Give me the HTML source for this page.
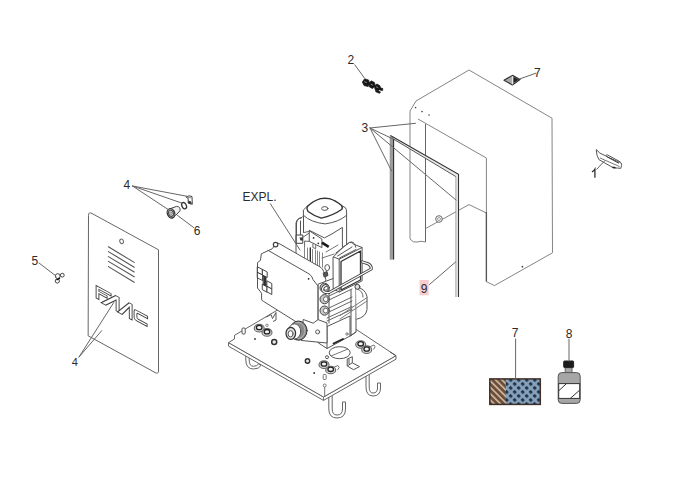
<!DOCTYPE html>
<html><head><meta charset="utf-8">
<style>
html,body{margin:0;padding:0;background:#fff;}
body{width:694px;height:500px;overflow:hidden;}
svg{display:block;}
.lb{font-family:"Liberation Sans",sans-serif;font-size:12px;fill:#2a2a2a;}
</style></head>
<body>
<svg width="694" height="500" viewBox="0 0 694 500">
<rect width="694" height="500" fill="#fff"/>
<g fill="none" stroke="#666" stroke-width="1" stroke-linejoin="round" stroke-linecap="round">

<!-- ===== Part 4 front panel ===== -->
<path d="M88.5,215 Q88.5,211.5 92,213.5 L158.5,249.8 L158.5,371 Q158.5,374.5 155,372.5 L88.5,336 Z"/>
<ellipse cx="121.6" cy="241.4" rx="1.8" ry="2.3" transform="rotate(-20 121.6 241.4)"/>
<g stroke="#555" stroke-width="1.1">
<path d="M108.4,246.8 L134.2,262.4 M108.4,251.6 L134.2,267.2 M108.4,256.6 L134.2,272 M108.4,261.4 L134.2,276.8 M108.4,266.6 L134.2,282.2"/>
</g>
</g>

<!-- FAAC logo -->
<g transform="matrix(1,0.54,0,1,96.1,299.5)" fill="#fff" stroke="#3a3a3a" stroke-width="0.9" stroke-linejoin="miter" fill-rule="evenodd">
<path d="M0,-1.5 L0,-14 L15,-14 L15,-11.6 L2.8,-11.6 L2.8,-9.6 L11,-9.6 L11,-7.2 L2.8,-7.2 L2.8,-1.5 Z"/>
<path d="M5,0.5 L19.5,-14.5 L23,-14.5 L23,0.5 L20,0.5 L20,-10.2 L9.6,0.5 Z"/>
<path d="M21.5,0.8 L33,-14.6 L36,-14.6 L36,1 L33.2,1 L33.2,-10.2 L26,0.8 Z"/>
<path d="M40,-11 L51.5,-11 L51.5,-8.6 L41.8,-8.6 Q40.8,-8.6 40.8,-7.4 L40.8,-4.2 Q40.8,-3 41.8,-3 L51,-3 L51,-0.6 L40,-0.6 Q38,-0.6 38,-2.8 L38,-8.8 Q38,-11 40,-11 Z"/>
</g>



<!-- ===== cover (hood) ===== -->
<g fill="none" stroke="#858585" stroke-width="1" stroke-linejoin="round">
<path d="M410,239 L410,111 L416,101 L469,70 L552,118.2 L552.5,252.8 L494.4,285.6 L486.4,281.6 L486.4,158"/>
<path d="M418,119 L486.4,158"/>
<path d="M425.5,124 L425.5,242" stroke="#666"/>
<path d="M410,239 Q413,243 417,242 Q421,240.5 425.5,242"/>
<path d="M486.4,213 L469,204.6 L425.5,228.6"/>
<path d="M486.4,212 L486.4,281.6" stroke="#555" stroke-width="1.3"/>
</g>
<g fill="#444">
<circle cx="415.6" cy="107.6" r="0.8"/><circle cx="422" cy="111.6" r="0.8"/><circle cx="429" cy="115" r="0.8"/>
<circle cx="522.4" cy="266.7" r="0.9"/>
</g>
<!-- bolt -->
<circle cx="439" cy="219" r="3.3" fill="#fff" stroke="#666" stroke-width="1"/>
<circle cx="439" cy="219" r="1.5" fill="none" stroke="#888" stroke-width="0.8"/>
<!-- ===== gasket part 3 ===== -->
<g stroke-linejoin="miter" fill="none">
<path d="M390.4,135.4 L458.5,174.3 L458.5,297 L455.9,297 L455.9,176.6 L393.4,139 L393.4,259.6 L390.4,259.6 Z" fill="#ececec" stroke="none"/>
<rect x="390.2" y="137" width="3.2" height="122.6" fill="#9c9c9c"/>
<path d="M390.2,259.6 L390.2,135.4" stroke="#888" stroke-width="0.8"/>
<path d="M390.4,135.4 L458.5,174.3 L458.5,297" stroke="#333" stroke-width="1.1"/>
<path d="M393.6,259.6 L393.6,139" stroke="#2a2a2a" stroke-width="1.1"/>
<path d="M393.4,139 L455.9,176.6" stroke="#444" stroke-width="0.9"/>
<path d="M455.9,176.6 L455.9,297" stroke="#999" stroke-width="0.9"/>
</g>

<!-- ===== base plate ===== -->
<g fill="#fff" stroke="#666" stroke-width="1" stroke-linejoin="round">
<!-- hooks -->
<path d="M245.8,350 L245.8,360 Q246,369 253.5,369 Q259,369 261,365.5 L258.5,364 Q257,366.3 253.5,366.3 Q249.2,366.3 249.2,360 L249.2,350 Z"/>
<path d="M328.8,395 L328.8,409 Q329,418 337,418 Q345.5,418 345.5,409 L345.5,402 L342.5,402 L342.5,409 Q342.5,415 337,415 Q332.2,415 332.2,409 L332.2,395 Z"/>
<path d="M366,370 L366,387 Q366.2,396 373,396 Q380.5,396 380.5,388 L380.5,383 L377.5,383 L377.5,388 Q377.5,393 373,393 Q369.2,393 369.2,387 L369.2,370 Z"/>
<!-- plate thickness -->
<path d="M228.5,342.6 L228.5,346.2 L323.5,400.4 L396,359.2 L396,355.7 L323.5,397 Z"/>
<path d="M323.5,397 L323.5,400.4" stroke="#777"/>
<!-- top face -->
<path d="M228.5,342.6 L234.5,339 L234.5,335.3 L303.6,294.7 L396,355.7 L323.5,397 Z"/>
<path d="M390,352 L396,355.7" stroke="#555"/>
</g>
<!-- plate details -->
<g fill="#fff" stroke="#555" stroke-width="1">
<ellipse cx="339.7" cy="352.7" rx="10.5" ry="6"/>
<path d="M331,356 L348,349" stroke="#777"/>
<rect x="242" y="328" width="3.2" height="6" rx="1"/>
<circle cx="274.2" cy="342" r="2.5" stroke-width="1.5" stroke="#333" fill="#eee"/>
<circle cx="255" cy="339" r="0.9" fill="#333" stroke="none"/>
<ellipse cx="259.2" cy="328.2" rx="5" ry="3.8" stroke-width="1.1" fill="#d6d6d6" stroke="#666"/>
<ellipse cx="259.2" cy="327.5" rx="2.8" ry="2.2" stroke="#222" stroke-width="1.3" fill="#f4f4f4"/>
<ellipse cx="267" cy="332.4" rx="5" ry="3.8" stroke-width="1.1" fill="#d6d6d6" stroke="#666"/>
<ellipse cx="267" cy="331.7" rx="2.8" ry="2.2" stroke="#222" stroke-width="1.3" fill="#f4f4f4"/>
<circle cx="267" cy="325.3" r="1.2" stroke="#888"/>
<path d="M266.5,317 L271,314.5 L272.5,318.5 L276,312.5 L276,320 L273,321.5" stroke="#555" fill="none"/>
<!-- right washers -->
<path d="M368,347.5 L374,345 Q376.5,346.5 373.5,349.5" stroke="#777"/>
<ellipse cx="360.7" cy="344.5" rx="5" ry="3.8" stroke-width="1.1" fill="#d6d6d6" stroke="#666"/>
<ellipse cx="360.7" cy="343.8" rx="2.8" ry="2.2" stroke="#222" stroke-width="1.3" fill="#f4f4f4"/>
<ellipse cx="366.7" cy="349.7" rx="5" ry="3.8" stroke-width="1.1" fill="#d6d6d6" stroke="#666"/>
<ellipse cx="366.7" cy="349" rx="2.8" ry="2.2" stroke="#222" stroke-width="1.3" fill="#f4f4f4"/>
<!-- front washers -->
<path d="M332,368 L338,365.5 Q340.5,367 337.5,370" stroke="#777"/>
<ellipse cx="324" cy="364.7" rx="5" ry="3.8" stroke-width="1.1" fill="#d6d6d6" stroke="#666"/>
<ellipse cx="324" cy="364" rx="2.8" ry="2.2" stroke="#222" stroke-width="1.3" fill="#f4f4f4"/>
<ellipse cx="330.7" cy="370" rx="5" ry="3.8" stroke-width="1.1" fill="#d6d6d6" stroke="#666"/>
<ellipse cx="330.7" cy="369.3" rx="2.8" ry="2.2" stroke="#222" stroke-width="1.3" fill="#f4f4f4"/>
<!-- bracket -->
<path d="M347.2,359.1 L352.3,356.7 L352.3,362.8 L359.5,366.6 L353.5,369.7 L347.2,365.9 Z" stroke="#555"/>
<path d="M347.2,365.9 L352.3,362.8 M349,359 L349,364" stroke="#555" fill="none"/>
<circle cx="307.5" cy="361" r="2.2" stroke-width="1.4" stroke="#333" fill="#eee"/>
<circle cx="327" cy="357.2" r="1.5"/>
<circle cx="314.2" cy="373" r="0.9" fill="#333" stroke="none"/>
<rect x="323.2" y="374.5" width="3" height="5" rx="0.8" stroke="#777"/>
<circle cx="324.7" cy="385.5" r="1.5" stroke="#777"/>
<path d="M324.7,387 L324.7,396" stroke="#777"/>
</g>

<!-- ===== motor assembly ===== -->
<g fill="#fff" stroke="#555" stroke-width="1" stroke-linejoin="round" stroke-linecap="round">
<!-- motor body -->
<path d="M296,262 L296,223 Q297,218 302,217.5 L303.4,216 L303.4,210 L307.3,206.2 Q313,201 320.6,198.6 L329.1,198.6 Q336,200.5 341.6,205.6 L345.5,207.8 Q346.6,209.5 346.6,212 L346.6,262"/>
<path d="M307.3,206.4 Q313,201 320.6,198.6 Q325,197.8 329.1,198.6 Q336,200.5 341.6,205.6 Q343,208 341.6,209.5 Q333,215.5 321.3,218.1 Q314,216 308.1,211.5 Q306.3,209 307.3,206.4 Z" stroke="#333" stroke-width="1.4"/>
<ellipse cx="324.8" cy="208.5" rx="3.2" ry="1.9"/>
<path d="M303.4,215.3 Q311,222.5 325.2,223.9 Q339,222 346.6,215.3" fill="none"/>
<path d="M309.3,230.3 L324.4,237.9 L332,233.9 L342.4,227.4 L342.4,247" fill="none"/>
<path d="M303.5,216 L303.5,232.5 M300.5,221 L300.5,237.5" fill="none"/>
<path d="M296.5,243.3 L296.5,223 Q297,218.5 301.5,217.8" fill="none"/>
<path d="M296.5,235 L302.8,235 L302.8,243.3 L296.5,243.3 Z" fill="#fff" stroke="#444"/>
<path d="M299.5,237.5 L302.8,237.5 L302.8,240.4 L300.5,240.4 Z" fill="#333" stroke="none"/>
<path d="M302,237.9 L309,233.2 M303.9,232.5 L309.3,231.4" fill="none" stroke="#666"/>
<!-- switch plate -->
<path d="M309.6,231 L321.9,239 L321.9,247.6 L309.6,241.5 Z"/>
<circle cx="313.6" cy="237.9" r="0.9" fill="#333" stroke="none"/>
<circle cx="318.3" cy="243.3" r="0.9" fill="#333" stroke="none"/>
<path d="M304.6,247 L304.6,241 L309.6,241.5" fill="none" stroke="#666"/>
<path d="M312.9,244 L312.9,247.6 L315.7,248.6 L315.7,245.4" fill="none" stroke="#666"/>
<path d="M322,242.6 L328.7,246.9" stroke="#1a1a1a" stroke-width="2.6" stroke-linecap="butt"/>
<!-- slats -->
<path d="M304.5,247.6 L304.5,262 M307.5,248 L307.5,262 M312.5,249.5 L312.5,264 M315.5,250 L315.5,265 M317.5,251 L317.5,266 M319.5,252 L319.5,266 M322.5,253 L322.5,267" fill="none" stroke="#777" stroke-width="0.9"/>
<path d="M310.3,248 L310.3,263" stroke="#222" stroke-width="1.3"/>
<path d="M322,258 L334.2,254 M326,252 L338,245" fill="none" stroke="#777"/>

<!-- control box -->
<path d="M272.5,248.4 L275,244.7 Q277.5,242.3 279.2,243.6 L321,267.5 Q324,269.5 325.8,279.6 L324,322 L302,325.5 L263.7,301.5 Q261.6,301 261.6,299 L261.6,293.2 L257.5,288 L257.5,262.6 L260.4,260.4 L261.3,254.2 Z"/>
<path d="M268,250.3 L309,273.9 Q312,275.5 313,279.6 L318,286 L318,319" fill="none"/>

<circle cx="275.6" cy="244.6" r="2.3" fill="#fff" stroke="#444" stroke-width="1.2"/>
<circle cx="308.6" cy="278.8" r="0.9" fill="#222" stroke="none"/>
<!-- grid cells -->
<g stroke="#333" stroke-width="0.9" fill="#fff">
<path d="M257.6,267 L262.6,269.5 L262.6,275 L257.6,272.5 Z"/>
<path d="M262.6,269.5 L267.2,272 L267.2,277.5 L262.6,275 Z"/>
<path d="M257.6,272.5 L262.6,275 L262.6,280.5 L257.6,278 Z"/>
<path d="M267.2,281 L271.8,283.5 L271.8,289 L267.2,286.5 Z"/>
<path d="M262.6,284.3 L267.2,286.8 L267.2,292.3 L262.6,289.8 Z"/>
<path d="M267.2,286.5 L271.8,289 L271.8,294.5 L267.2,292 Z"/>
<path d="M263.5,276 L266,277.2 L266,286 L263.5,284.8 Z" fill="#333"/>
</g>

<!-- pump block -->
<path d="M318.5,284 L356,270 L356,332 L350,336 L327,348.5 L318.5,343 Z"/>
<path d="M329,287 L329,323" fill="none"/>
<path d="M327,326.5 L350,316 L350,336 M327,326.5 L327,348.5 M319,322 L327,326.5" fill="none"/>
<path d="M329,296 L352,285 M329,300 L352,289 M329,308 L352,297 M329,312 L352,301 M327,318 L352,306.5 M327,321 L352,309.5" fill="none" stroke="#666"/>
<path d="M351,290 L351,335.5 M356,332 L351,335.5" fill="none"/>
<path d="M333.5,343.5 L343,339" stroke="#222" stroke-width="1.8"/>
<circle cx="347" cy="334" r="1.2" fill="#fff" stroke="#777"/>
<!-- right tank -->
<path d="M356,287 Q365,288 367,296.4 L367,309.6 Q366,317 356.8,319.2" fill="#fff"/>
<path d="M340,315.6 L367,297.6 M340,319 L367,301" fill="none" stroke="#777"/>
<path d="M357.4,289 Q363,291 363,297" fill="none" stroke="#666"/>
<circle cx="357.4" cy="286.8" r="2.5" fill="#ddd" stroke="#444"/>
<!-- fittings -->
<g stroke="#444" stroke-width="1">
<circle cx="324.6" cy="287.8" r="4.6" fill="#c8c8c8"/>
<circle cx="324.6" cy="299.2" r="4.6" fill="#c8c8c8"/>
<circle cx="324.6" cy="310.6" r="4.6" fill="#c8c8c8"/>
<circle cx="325.8" cy="287.8" r="2.4" fill="#fff" stroke="#666"/>
<circle cx="325.8" cy="299.2" r="2.4" fill="#fff" stroke="#666"/>
<circle cx="325.8" cy="310.6" r="2.4" fill="#fff" stroke="#666"/>
<ellipse cx="327.2" cy="267.6" rx="2.4" ry="3" fill="#fff" stroke="#555"/>
<path d="M323.5,273 L327,271.5 L328,275.5 L324.5,277 Z" fill="#555" stroke="#444"/>
</g>

<!-- capacitor -->
<path d="M333.3,256.9 L343.9,246.5 L349.5,242.5 Q352,242 354,244.3 L362.1,247.5 L362.1,280.9 L339.2,292 L333.5,289 Z"/>
<path d="M339.2,259.2 L362.1,247.5 M339.2,259.2 L339.2,292 M333.3,256.9 L339.2,259.2" fill="none"/>
<path d="M341,261.5 L360.5,251 L360.5,280 L341,290 Z" fill="none" stroke="#333" stroke-width="1.3"/>
<path d="M335.8,253 L349.6,242.3 Q353.8,241 355.2,245.4 L355.6,247.2 M337.6,256 L352,247 M339.5,258 L356,249.5" fill="none" stroke="#555"/>
<!-- pipe -->
<path d="M362.1,261.9 L368,263.7 Q371.5,265.5 371.3,269 L329,292.5 Q322.5,293 322.5,289 Q323,286 326,285.5" fill="none" stroke="#444" stroke-width="3"/>
<path d="M362.1,261.9 L368,263.7 Q371.5,265.5 371.3,269 L329,292.5 Q322.5,293 322.5,289 Q323,286 326,285.5" fill="none" stroke="#fff" stroke-width="1.2"/>

<!-- gear pulley + bracket -->
<path d="M303.6,319.6 L313.2,323.2 L318,319.6 L327,323 L327,343 L301.6,340.5 Z"/>
<circle cx="317.6" cy="331.9" r="2" fill="#fff"/>
<ellipse cx="298.5" cy="330.6" rx="8.6" ry="9.6" fill="#8a8a8a" stroke="#333"/>
<ellipse cx="298" cy="330.6" rx="6.8" ry="8" fill="none" stroke="#bbb" stroke-width="1" stroke-dasharray="1.2 1"/>
<ellipse cx="294.6" cy="331.4" rx="6.2" ry="7.6" fill="#fff" stroke="#555"/>
<ellipse cx="290.8" cy="333.3" rx="4.8" ry="6" fill="#ddd" stroke="#333" stroke-width="1.2"/>
<ellipse cx="290.6" cy="333.8" rx="2.5" ry="3.1" fill="#fff" stroke="#555"/>
</g>

<!-- ===== small parts ===== -->
<!-- clip -->
<g stroke="#444" stroke-width="1" fill="#fff" stroke-linejoin="round">
<path d="M185.9,197 L189,195.8 L192,196.5 L192.3,204.3 L188.2,203 L188.2,198.5 Z"/>
<path d="M188.6,201 L191,202 L191,204 L188.6,203.2 Z" fill="#222"/>
<path d="M186.5,197.5 L191.5,197.8" stroke="#888"/>
</g>
<!-- washer -->
<ellipse cx="184.1" cy="205.7" rx="2.2" ry="3.3" transform="rotate(-25 184.1 205.7)" fill="none" stroke="#333" stroke-width="1.3"/>
<!-- nut/knob -->
<g stroke="#444" stroke-width="1" fill="#fff">
<path d="M170.5,208.6 L176.5,206.4 Q180.8,206.5 180,210.8 L175.5,215.6 L172.5,218 Z" fill="#f2f2f2"/>
<ellipse cx="171" cy="213.3" rx="3.7" ry="4.9" transform="rotate(-20 171 213.3)" fill="#aaa" stroke="#333" stroke-width="1.2"/>
<ellipse cx="171" cy="213.3" rx="2.3" ry="3.1" transform="rotate(-20 171 213.3)" fill="#ddd" stroke="#444"/>
<ellipse cx="171" cy="213.3" rx="0.9" ry="1.3" transform="rotate(-20 171 213.3)" fill="#fff" stroke="#666" stroke-width="0.7"/>
</g>
<!-- screw 5 -->
<g fill="#fff" stroke="#444" stroke-width="1">
<circle cx="62.3" cy="275.2" r="1.9"/>
<circle cx="57.3" cy="281" r="2.1"/>
<circle cx="57.7" cy="276.1" r="2.4"/>
<path d="M56.5,280 L60,278.2" stroke="#111" stroke-width="1.4"/>
</g>
<!-- part 2 connector -->
<g fill="#181818" stroke="#181818" stroke-width="0.7" stroke-linejoin="round">
<path d="M362.3,82 L364.6,78.8 L368.6,80 L369.6,83.2 L368.2,86.6 L364,85.6 Z"/>
<path d="M368.8,83.5 L371.2,80.8 L374.6,82.6 L375,86.2 L372.6,88.6 L369.5,87 Z"/>
<path d="M374.4,85.8 L377,84 L380,85.8 L380.4,88.6 L378,90.6 L375,89.5 Z"/>
<path d="M378.6,87.2 L382.8,88.6 L382.6,90.6 L379.6,90 Z"/>
<path d="M375.5,90 L378.5,90.5 L380.6,92.3 L379.4,93.3 L375.8,91.8 Z"/>
</g>
<g stroke="#fff" stroke-width="0.55" fill="none" opacity="0.9">
<path d="M364.3,81.6 L366.8,82.6 M370.8,84.2 L372.8,85.2 M376.2,86.8 L378.2,87.6"/>
</g>
<!-- diamond 7 -->
<path d="M504,80.2 L512.4,75.4 L520,79.6 L512.4,85 Z" fill="#aaa" stroke="#333" stroke-width="1.2" stroke-linejoin="round"/>
<path d="M512.4,76 L512.4,84.5" stroke="#fff" stroke-width="0.8"/>
<path d="M513.5,77 L518.5,79.7 L513.5,83 Z" fill="#222"/>
<!-- part 1 handle -->
<g fill="#fff" stroke="#555" stroke-width="1" stroke-linejoin="round">
<path d="M596.2,149.6 Q596.5,156 599,159.7 L613.3,167.8 L620.9,168.3 Q621.8,165.5 621.4,163.3 L619.4,162.2 L605.3,155.7 Q599,153.5 596.2,149.6 Z"/>
<path d="M605.5,155.5 L607.3,154.8 L620.5,162" />
<path d="M600,158 L619.5,166.5" stroke="#777"/>
<path d="M606.5,156.5 L619,163.3" stroke="#222" stroke-width="0.9"/>
<path d="M612.5,167.3 L615.5,167.8" stroke="#222" stroke-width="1.4"/>
</g>
<!-- filter 7 -->
<defs>
<pattern id="brown" width="4.5" height="4.5" patternUnits="userSpaceOnUse" patternTransform="rotate(-45)">
<rect width="4.5" height="4.5" fill="#6a4e3e"/>
<rect width="1.6" height="4.5" fill="#d8bca0"/>
</pattern>
<pattern id="blue" width="5.66" height="5.66" patternUnits="userSpaceOnUse" patternTransform="translate(491,380) rotate(-45)">
<rect width="5.66" height="5.66" fill="#86a3bf"/>
<rect x="1.2" y="0.9" width="2.9" height="3.4" rx="0.8" fill="#1f2c3b"/>
</pattern>
</defs>
<rect x="489.8" y="378.9" width="50.5" height="25.5" fill="url(#blue)"/>
<rect x="489.8" y="378.9" width="16" height="25.5" fill="url(#brown)"/>
<rect x="489.8" y="378.9" width="50.5" height="25.5" fill="none" stroke="#3e3028" stroke-width="1.5"/>
<!-- bottle 8 -->
<g stroke="#444" stroke-width="1">
<rect x="565.2" y="366" width="6.8" height="7" fill="#a8a8a8" stroke="#666"/>
<rect x="563.7" y="361" width="9.9" height="6.6" fill="#1c1c1c" rx="0.8" stroke="#222"/>
<rect x="558.2" y="372.6" width="22" height="30.8" rx="3.6" fill="#a6a6a6" stroke="#555"/>
<rect x="558.7" y="383.6" width="21" height="14.8" fill="#fff" stroke="#333"/>
<path d="M558.8,390.7 L566.5,383.6 M570.3,398.4 L579.6,390.2" fill="none" stroke="#333"/>
</g>

<g fill="none" stroke="#666" stroke-width="1" stroke-linecap="round">
<!-- leaders part 4 (bottom) -->
<path d="M79,357 L113.8,302.5 M79,357 L101.7,330.7"/>
<!-- leader 5 -->
<path d="M39,263 L56,276"/>
<!-- leaders 4 top -->
<path d="M132.5,186 L186.6,196.2 M132.5,186 L182.5,203.3 M132.5,186 L169.4,210.3"/>
<!-- leader 6 -->
<path d="M177.5,215.4 L193.6,227.5"/>
<!-- leader EXPL -->
<path d="M270.4,203.8 L300,250"/>
<!-- leader 2 -->
<path d="M354.8,64.8 L364.4,78"/>
<!-- leader 7 top -->
<path d="M520.3,78.7 L535.9,73.2"/>
<!-- leaders 3 -->
<path d="M370,128 L415.5,123.3 M370,128 L391.6,171 M370,128 L456,200 M370,128 L393,139"/>
<!-- leader 9 -->
<path d="M429.5,284.5 L455.6,262"/>
<!-- leader 1 -->
<path d="M596.7,169.3 L604.8,160.7"/>
<!-- leader 7 bottom, 8 -->
<path d="M515.6,339 L515.6,379 M569,339 L569,361"/>
</g>
<!-- labels -->
<g class="lb">
<text x="123.6" y="188.9">4</text>
<text x="71.8" y="365.6" font-size="11">4</text>
<text x="31.5" y="265">5</text>
<text x="193.8" y="235">6</text>
<text x="242.5" y="201.2">EXPL.</text>
<text x="347.5" y="64">2</text>
<text x="534" y="77">7</text>
<text x="361.6" y="132">3</text>

<text x="511.8" y="337">7</text>
<text x="565.8" y="338">8</text>
</g>
<path d="M592,172 L594.2,170.2 L594.9,169 L594.9,177.8" fill="none" stroke="#2a2a2a" stroke-width="1.25" stroke-linejoin="miter"/>
<!-- 9 highlighted -->
<rect x="419.5" y="280" width="9.2" height="15.3" fill="#f7cccc"/>
<text x="420.7" y="292.8" class="lb">9</text>

</svg>
</body></html>
